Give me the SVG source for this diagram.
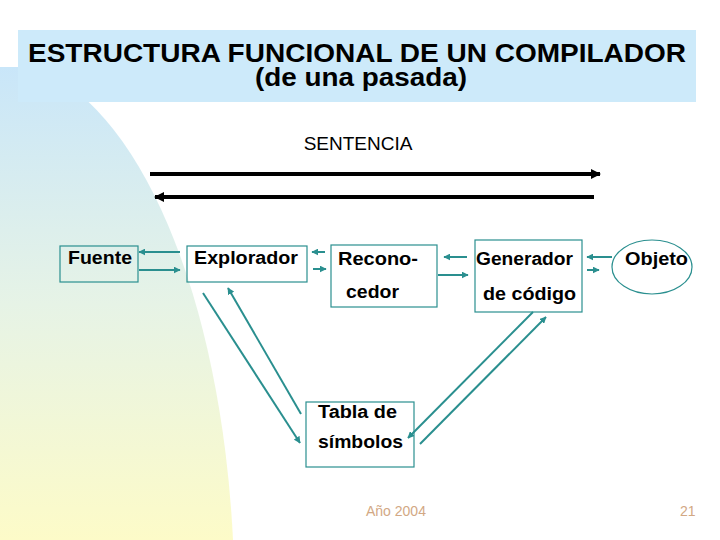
<svg xmlns="http://www.w3.org/2000/svg" width="720" height="540" viewBox="0 0 720 540">
<defs>
<linearGradient id="bg" x1="0" y1="0" x2="0" y2="1">
<stop offset="0" stop-color="#c9e6f9"/>
<stop offset="0.5" stop-color="#e6f3e6"/>
<stop offset="1" stop-color="#fdfbc8"/>
</linearGradient>
<marker id="ta" viewBox="0 0 10 10" refX="9" refY="5" markerWidth="7" markerHeight="7" markerUnits="userSpaceOnUse" orient="auto">
<path d="M0,0 L10,5 L0,10 Z" fill="#2a8f8f"/>
</marker>
<marker id="ba" viewBox="0 0 10 10" refX="9" refY="5" markerWidth="11" markerHeight="10" markerUnits="userSpaceOnUse" orient="auto">
<path d="M0,0 L10,5 L0,10 Z" fill="#000"/>
</marker>
<style>
.box{fill:none;stroke:#2a8f8f;stroke-width:1.2}
.lbl{font-family:"Liberation Sans",Arial,sans-serif;font-weight:bold;font-size:18px;fill:#000}
.c{stroke:#2a8f8f;stroke-width:2;fill:none;marker-end:url(#ta)}
.bk{stroke:#000;stroke-width:4;fill:none;marker-end:url(#ba)}
.ft{font-family:"Liberation Sans",Arial,sans-serif;font-size:14px;fill:#d2a884}
</style>
</defs>
<rect width="720" height="540" fill="#fff"/>
<path d="M0,67 L32,67 A235,538 0 0 1 233,540 L0,540 Z" fill="url(#bg)"/>
<rect x="18" y="30" width="678" height="72" fill="#cdeafa"/>
<g id="title" font-family="'Liberation Sans',Arial,sans-serif" font-weight="bold" text-anchor="middle">
<text x="357" y="62" font-size="26" textLength="658" lengthAdjust="spacingAndGlyphs">ESTRUCTURA FUNCIONAL DE UN COMPILADOR</text>
<text x="361" y="86" font-size="25" textLength="212" lengthAdjust="spacingAndGlyphs">(de una pasada)</text>
</g>
<g id="sentencia">
<text x="358" y="150" font-family="'Liberation Sans',Arial,sans-serif" font-size="19" text-anchor="middle">SENTENCIA</text>
</g>
<g id="connectors">
<line class="bk" x1="150" y1="174" x2="600" y2="174"/>
<line class="bk" x1="594" y1="197" x2="155" y2="197"/>
<line class="c" x1="180" y1="252" x2="139" y2="252"/>
<line class="c" x1="139" y1="270" x2="180" y2="270"/>
<line class="c" x1="325" y1="252" x2="312" y2="252"/>
<line class="c" x1="313" y1="269" x2="326" y2="269"/>
<line class="c" x1="467" y1="257" x2="444" y2="257"/>
<line class="c" x1="438" y1="275" x2="468" y2="275"/>
<line class="c" x1="612" y1="257" x2="587" y2="257"/>
<line class="c" x1="587" y1="270" x2="599" y2="270"/>
<line class="c" x1="203" y1="293" x2="300" y2="443"/>
<line class="c" x1="301" y1="414" x2="228" y2="288"/>
<line class="c" x1="533" y1="312" x2="408" y2="438"/>
<line class="c" x1="420" y1="444" x2="546" y2="317"/>
</g>
<g id="fuente">
<rect class="box" x="60" y="246" width="78" height="36"/>
<text class="lbl" x="68" y="264" textLength="64" lengthAdjust="spacingAndGlyphs">Fuente</text>
</g>
<g id="explorador">
<rect class="box" x="187" y="246" width="120" height="36"/>
<text class="lbl" x="194" y="264" textLength="104" lengthAdjust="spacingAndGlyphs">Explorador</text>
</g>
<g id="reconocedor">
<rect class="box" x="331" y="245" width="106" height="62"/>
<text class="lbl" x="338" y="265" textLength="80" lengthAdjust="spacingAndGlyphs">Recono-</text>
<text class="lbl" x="346" y="298" textLength="53" lengthAdjust="spacingAndGlyphs">cedor</text>
</g>
<g id="generador">
<rect class="box" x="475" y="240" width="107" height="72"/>
<text class="lbl" x="476" y="265" textLength="97" lengthAdjust="spacingAndGlyphs">Generador</text>
<text class="lbl" x="483" y="300" textLength="93" lengthAdjust="spacingAndGlyphs">de código</text>
</g>
<g id="objeto">
<ellipse cx="652" cy="267" rx="40" ry="27" fill="none" stroke="#2a8f8f" stroke-width="1.2"/>
<text class="lbl" x="625" y="265" textLength="63" lengthAdjust="spacingAndGlyphs">Objeto</text>
</g>
<g id="tabla">
<rect class="box" x="306" y="402" width="108" height="65"/>
<text class="lbl" x="318" y="418" textLength="79" lengthAdjust="spacingAndGlyphs">Tabla de</text>
<text class="lbl" x="318" y="448" textLength="85" lengthAdjust="spacingAndGlyphs">símbolos</text>
</g>
<g id="footer">
<text class="ft" x="366" y="516">Año 2004</text>
<text class="ft" x="680" y="516">21</text>
</g>
</svg>
